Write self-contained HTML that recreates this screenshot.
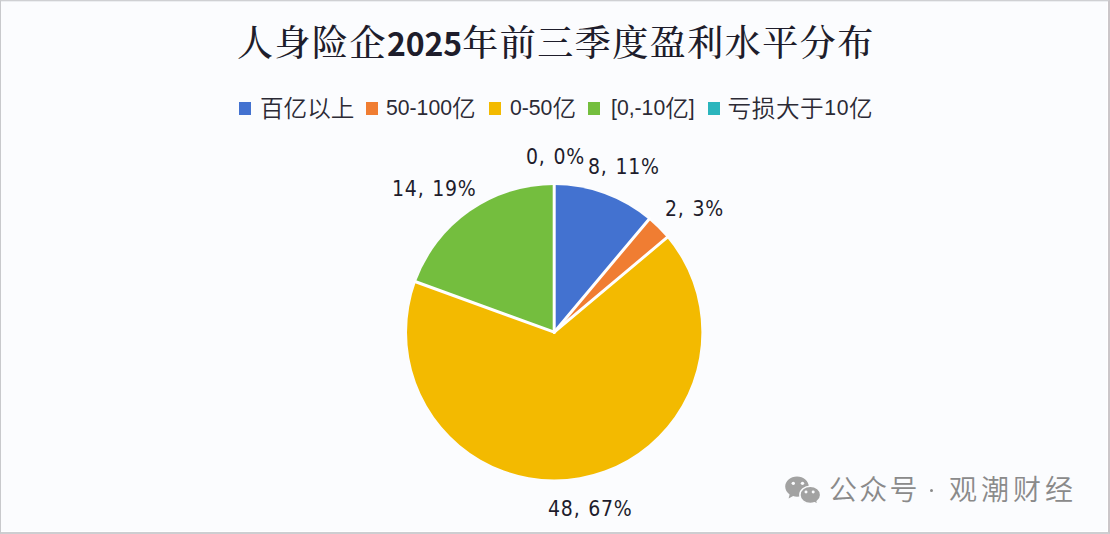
<!DOCTYPE html>
<html lang="zh-CN">
<head>
<meta charset="utf-8">
<title>人身险企2025年前三季度盈利水平分布</title>
<style>
  html, body { margin: 0; padding: 0; }
  body {
    width: 1110px; height: 534px; overflow: hidden; position: relative;
    background: #fbfcfe;
    font-family: "Liberation Sans", "Noto Sans CJK SC", sans-serif;
  }
  .frame { position: absolute; left: 0; top: 0; width: 1107px; height: 531px;
    border-style: solid; border-width: 1px 2px 2px 1px;
    border-color: #cfd0d3 #cbc6c9 #cdced1 #c8c9cc;
    box-shadow: inset 0 1px 0 #eceef1, inset 0 -1px 0 #ffffff, inset -1px 0 0 #ffffff; }
  .title { position: absolute; left: 237px; top: 16px;
    font-family: "Noto Serif CJK SC", serif; font-weight: 500; font-size: 36px; letter-spacing: 1.5px;
    color: #1e1d2b; line-height: 50px; white-space: nowrap; }
  .title .num { font-family: "Noto Sans CJK SC", sans-serif; font-weight: 700; font-size: 32px; letter-spacing: -0.1px; margin-left: 0px; margin-right: 0px; }
  .legend { position: absolute; top: 94px; left: 0; height: 30px; white-space: nowrap;
    font-family: "Liberation Sans", "Noto Sans CJK SC", sans-serif; font-weight: 350; font-size: 23.6px; color: #2b2a35; line-height: 30px; }
  .legend span.item { position: absolute; top: 0; }
  .legend b { font-weight: 400; font-size: 21.2px; position: relative; top: -2px; }
  .legend i { position: absolute; width: 12px; height: 12.5px; top: 8px; }
  .lbl { position: absolute; font-family: "DejaVu Sans Condensed", "DejaVu Sans", sans-serif; font-size: 21px; word-spacing: 1px; letter-spacing: 0.8px; color: #1e1c2c; white-space: nowrap; line-height: 24px; }
  .wm { position: absolute; top: 469px; font-family: "Noto Sans CJK SC", sans-serif; font-weight: 350; font-size: 28px; color: #8a8a8a; white-space: nowrap; line-height: 38px; }
</style>
</head>
<body>
<div class="frame"></div>
<div class="title">人身险企<span class="num">2025</span>年前三季度盈利水平分布</div>

<div class="legend">
  <i style="left:238.5px;background:#4372d0"></i><span class="item" style="left:260px">百亿以上</span>
  <i style="left:366px;background:#f07d32"></i><span class="item" style="left:386px"><b>50-100</b>亿</span>
  <i style="left:488.5px;background:#f3ba00"></i><span class="item" style="left:510px"><b>0-50</b>亿</span>
  <i style="left:588px;background:#74be3e"></i><span class="item" style="left:611px"><b>[0,-10</b>亿<b>]</b></span>
  <i style="left:708px;background:#2bb5bd"></i><span class="item" style="left:727.5px;letter-spacing:0.6px">亏损大于<b>10</b>亿</span>
</div>

<svg width="1110" height="534" style="position:absolute;left:0;top:0">
  <g>
    <path fill="#4372d0" d="M554.2,332.2 L554.20,185.00 A147.2,147.2 0 0 1 648.82,219.44 Z"/>
    <path fill="#f07d32" d="M554.2,332.2 L648.82,219.44 A147.2,147.2 0 0 1 666.96,237.58 Z"/>
    <path fill="#f3ba00" d="M554.2,332.2 L666.96,237.58 A147.2,147.2 0 1 1 415.88,281.85 Z"/>
    <path fill="#74be3e" d="M554.2,332.2 L415.88,281.85 A147.2,147.2 0 0 1 554.20,185.00 Z"/>
  </g>
  <g stroke="#ffffff" stroke-width="3" stroke-linecap="round">
    <line x1="554.2" y1="332.2" x2="554.20" y2="184.00"/>
    <line x1="554.2" y1="332.2" x2="649.46" y2="218.67"/>
    <line x1="554.2" y1="332.2" x2="667.73" y2="236.94"/>
    <line x1="554.2" y1="332.2" x2="414.94" y2="281.51"/>
  </g>
</svg>

<div class="lbl" style="left:526px;top:145px">0, 0%</div>
<div class="lbl" style="left:588px;top:155px">8, 11%</div>
<div class="lbl" style="left:392px;top:176.5px">14, 19%</div>
<div class="lbl" style="left:665px;top:197px">2, 3%</div>
<div class="lbl" style="left:548px;top:497px">48, 67%</div>

<svg width="60" height="40" viewBox="770 470 60 40" style="position:absolute;left:770px;top:470px">
  <path fill="#a2a2a2" d="M797,476.5 C803.6,476.5 808.8,481 808.8,486.6 C808.8,492.2 803.6,496.7 797,496.7 C795.6,496.7 794.3,496.5 793.1,496.1 L788.6,498.4 L789.6,494.4 C786.9,492.6 785.2,489.8 785.2,486.6 C785.2,481 790.4,476.5 797,476.5 Z"/>
  <ellipse cx="793.3" cy="483.3" rx="1.7" ry="1.6" fill="#fbfcfe"/>
  <ellipse cx="802.5" cy="483.3" rx="1.7" ry="1.6" fill="#fbfcfe"/>
  <path fill="#a2a2a2" stroke="#fbfcfe" stroke-width="1.6" d="M810.3,486.2 C816,486.2 820.7,490.1 820.7,494.9 C820.7,497.6 819.3,499.9 817.2,501.5 L818,504.4 L814.6,502.8 C813.2,503.3 811.8,503.5 810.3,503.5 C804.6,503.5 799.9,499.7 799.9,494.9 C799.9,490.1 804.6,486.2 810.3,486.2 Z"/>
  <ellipse cx="806" cy="492" rx="1.5" ry="1.4" fill="#fbfcfe"/>
  <ellipse cx="813.2" cy="492" rx="1.5" ry="1.4" fill="#fbfcfe"/>
</svg>
<div class="wm" style="left:829px;letter-spacing:2.2px">公众号</div>
<div style="position:absolute;left:929.6px;top:488.6px;width:3.8px;height:3.8px;border-radius:50%;background:#8a8a8a"></div>
<div class="wm" style="left:949px;letter-spacing:4px">观潮财经</div>
</body>
</html>
